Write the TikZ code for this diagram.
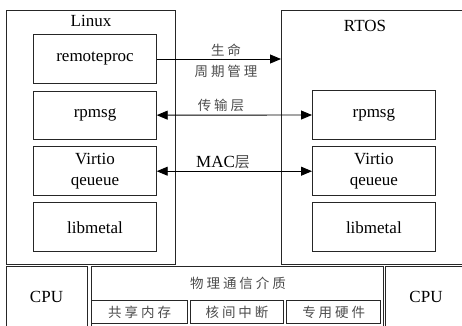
\documentclass[tikz,border=0pt]{standalone}
\usepackage{fontspec}
\setmainfont{Liberation Serif}
\newfontfamily\cjk[LetterSpace=22]{Noto Sans CJK SC}
\usetikzlibrary{arrows.meta}
\tikzset{
  box/.style={draw=black!85, line width=0.9pt, rectangle, inner sep=0pt, outer sep=0pt, anchor=north west},
  lbl/.style={inner sep=0pt, font=\fontsize{17}{20.6}\selectfont, align=center, text=black},
  cn/.style={inner sep=0pt, font=\cjk\fontsize{13.5}{16}\selectfont, text=black!70},
  conn/.style={draw=black, line width=0.9pt},
  tip/.style={-{Triangle[length=11pt,width=9pt]}},
  tips/.style={{Triangle[length=11pt,width=9pt]}-{Triangle[length=11pt,width=9pt]}}
}
\begin{document}
\begin{tikzpicture}[x=1pt,y=-1pt]
\clip (0,0) rectangle (462,325);
% outer frames
\node[box, minimum width=169.7pt, minimum height=253.3pt] (linux) at (6,10.7) {};
\node[box, minimum width=190pt, minimum height=253.6pt] (rtos) at (281,10.7) {};
\node[lbl] (linuxt) at (91,21) {Linux};
\node[lbl] (rtost) at (365,25.5) {RTOS};
% Linux inner
\node[box, minimum width=123.4pt, minimum height=48.6pt] (rproc) at (33.3,34.7) {};
\node[lbl] at (rproc.center) {remoteproc};
\node[box, minimum width=123.4pt, minimum height=48.3pt] (lrpmsg) at (33.3,91) {};
\node[lbl] at (lrpmsg.center) {rpmsg};
\node[box, minimum width=123.4pt, minimum height=49pt] (lvirt) at (33.3,146.7) {};
\node[lbl] at (lvirt.center) {Virtio\\qeueue};
\node[box, minimum width=123.4pt, minimum height=49pt] (lmetal) at (33.3,202.7) {};
\node[lbl] at (lmetal.center) {libmetal};
% RTOS inner
\node[box, minimum width=123.7pt, minimum height=48.6pt] (rrpmsg) at (312,90.7) {};
\node[lbl] at (rrpmsg.center) {rpmsg};
\node[box, minimum width=123.7pt, minimum height=49pt] (rvirt) at (312,146.7) {};
\node[lbl] at (rvirt.center) {Virtio\\qeueue};
\node[box, minimum width=123.7pt, minimum height=49pt] (rmetal) at (312,202.7) {};
\node[lbl] at (rmetal.center) {libmetal};
% connectors
\draw[conn, tip] (rproc.east) -- (rproc.east -| rtos.west);
\draw[conn, tips] (lrpmsg.east) -- (rrpmsg.west);
\draw[conn, tips] (lvirt.east) -- (rvirt.west);
\node[cn] (l1a) at (226,50) {生命};
\node[cn] (l1b) at (226,71) {周期管理};
\node[cn] (l2) at (221,105.5) {传输层};
\node[lbl, anchor=base] (l3) at (223,167) {MAC{\cjk\fontsize{15}{16}\selectfont\color{black!70}层}};
% bottom row
\node[box, minimum width=81pt, minimum height=70pt] (cpul) at (6,266.7) {};
\node[lbl] at (46.5,296.7) {CPU};
\node[box, minimum width=291.6pt, minimum height=70pt] (phy) at (91.7,266.7) {};
\node[cn] (phyt) at (238,283.5) {物理通信介质};
\node[box, minimum width=96pt, minimum height=22.6pt] (shm) at (91.7,300.7) {};
\node[cn] at (shm.center) {共享内存};
\node[box, minimum width=92.6pt, minimum height=22.6pt] (ipi) at (190.7,300.7) {};
\node[cn] at (ipi.center) {核间中断};
\node[box, minimum width=94pt, minimum height=22.6pt] (hw) at (286.7,300.7) {};
\node[cn] at (hw.center) {专用硬件};
\node[box, minimum width=90pt, minimum height=70pt] (cpur) at (385.7,266.7) {};
\node[lbl] at (426,296.7) {CPU};
\end{tikzpicture}
\end{document}
